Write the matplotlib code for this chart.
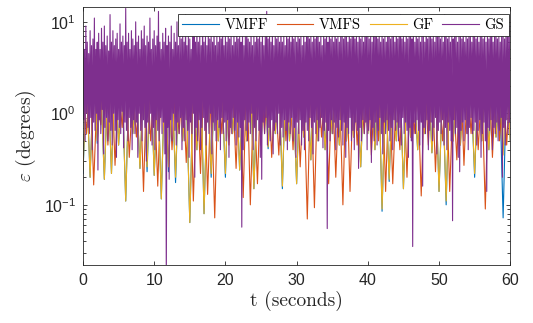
import numpy as np
import matplotlib
matplotlib.use('Agg')
import matplotlib.pyplot as plt
from matplotlib.ticker import LogLocator, NullFormatter

# pointing error vs time (degrees, log axis)
t_fast = np.arange(0, 60.001, 0.5)     # 121 samples for VMFF / VMFS / GF
t_gs = np.arange(0, 60.001, 0.1)       # 601 samples for GS

# VMFS: (value at t=k, value at t=k+0.5) pairs, last one at t=60
vmfs = [2.2, 0.6, 3.0, 0.165, 1.9, 0.75, 2.6, 0.45, 3.4, 0.27,
        2.1, 0.7, 2.8, 0.33, 1.8, 0.55, 2.5, 0.14, 3.2, 0.5,
        2.0, 0.16, 2.7, 0.8, 3.1, 0.4, 1.9, 0.6, 2.4, 0.29,
        3.3, 0.11, 2.2, 0.22, 2.9, 0.13, 1.8, 0.072, 2.6, 0.6,
        3.0, 0.45, 2.1, 0.25, 2.7, 0.12, 3.4, 0.10, 2.0, 0.17,
        2.5, 0.6, 3.1, 0.33, 1.9, 0.35, 2.8, 0.5, 2.3, 0.4,
        3.2, 0.26, 2.0, 0.07, 2.6, 0.093, 3.0, 0.55, 1.8, 0.17,
        2.7, 0.2, 2.2, 0.10, 3.3, 0.14, 2.5, 0.45, 1.9, 0.6,
        2.9, 0.35, 2.1, 0.5, 3.1, 0.14, 2.4, 0.17, 1.8, 0.4,
        2.8, 0.2, 3.2, 0.6, 2.0, 0.125, 2.6, 0.45, 3.0, 0.23,
        2.2, 0.5, 2.7, 0.14, 1.9, 0.31, 3.3, 0.27, 2.4, 0.6,
        2.9, 0.4, 2.1, 0.09, 3.1, 0.33, 2.5, 0.5, 2.0, 0.45,
        2.6]

# GF: (value at t=m, value at t=m+0.5) pairs, last one at t=60
gf = [0.24, 2.4, 0.2, 3.1, 0.5, 2.0, 0.19, 2.7, 0.22, 3.3,
      0.45, 2.2, 0.11, 2.9, 0.6, 1.9, 0.25, 2.6, 0.26, 3.2,
      0.21, 2.1, 0.116, 2.8, 0.26, 2.3, 0.2, 3.0, 0.5, 1.8,
      0.064, 2.5, 0.4, 3.4, 0.08, 2.2, 0.22, 2.7, 0.5, 2.0,
      0.22, 3.1, 0.6, 2.4, 0.24, 1.9, 0.5, 2.9, 0.15, 2.3,
      0.45, 3.2, 0.43, 2.1, 0.6, 2.6, 0.16, 3.0, 0.5, 1.8,
      0.17, 2.8, 0.55, 2.2, 0.31, 3.3, 0.5, 2.5, 0.4, 2.0,
      0.6, 2.7, 0.45, 3.1, 0.5, 2.3, 0.55, 1.9, 0.26, 2.9,
      0.6, 2.4, 0.4, 3.2, 0.09, 2.1, 0.19, 2.6, 0.5, 3.0,
      0.15, 2.2, 0.55, 1.8, 0.4, 2.8, 0.6, 3.3, 0.37, 2.5,
      0.14, 2.0, 0.11, 2.7, 0.5, 3.1, 0.45, 2.3, 0.6, 1.9,
      0.22, 2.9, 0.5, 2.4, 0.4, 3.0, 0.55, 2.1, 0.35, 2.6,
      0.5]

# VMFF: mostly on top of GF, a little lower at some dips
vmff = [0.22, 2.4, 0.2, 3.1, 0.47, 2.0, 0.19, 2.7, 0.22, 3.3,
        0.45, 2.2, 0.11, 2.9, 0.6, 1.9, 0.25, 2.6, 0.23, 3.2,
        0.21, 2.1, 0.116, 2.8, 0.23, 2.3, 0.175, 3.0, 0.5, 1.8,
        0.064, 2.5, 0.4, 3.4, 0.08, 2.2, 0.2, 2.7, 0.5, 2.0,
        0.2, 3.1, 0.6, 2.4, 0.24, 1.9, 0.5, 2.9, 0.15, 2.3,
        0.45, 3.2, 0.41, 2.1, 0.6, 2.6, 0.15, 3.0, 0.5, 1.8,
        0.17, 2.8, 0.55, 2.2, 0.31, 3.3, 0.5, 2.5, 0.4, 2.0,
        0.6, 2.7, 0.45, 3.1, 0.5, 2.3, 0.55, 1.9, 0.26, 2.9,
        0.6, 2.4, 0.4, 3.2, 0.085, 2.1, 0.18, 2.6, 0.5, 3.0,
        0.15, 2.2, 0.55, 1.8, 0.4, 2.8, 0.6, 3.3, 0.37, 2.5,
        0.14, 2.0, 0.10, 2.7, 0.5, 3.1, 0.45, 2.3, 0.6, 1.9,
        0.2, 2.9, 0.5, 2.4, 0.4, 3.0, 0.55, 2.1, 0.072, 2.6,
        0.5]

# GS: one row per second, samples every 0.1 s, last value at t=60
gs = [7, 0.85, 5, 0.5, 9, 1.0, 6, 0.7, 4.5, 0.6,
      8, 0.9, 5.5, 0.4, 6.5, 0.8, 11, 0.65, 5, 1.0,
      6, 0.24, 7.5, 0.85, 5, 0.6, 8.5, 1.1, 6, 0.36,
      9, 0.7, 5.5, 0.9, 7, 0.5, 4.8, 0.8, 12, 0.65,
      6, 0.45, 8, 1.0, 5.5, 0.65, 6.5, 0.33, 7.5, 0.85,
      5, 0.7, 9.5, 0.6, 6, 1.05, 7, 0.42, 5.5, 0.8,
      14, 0.65, 6, 0.5, 7.5, 0.9, 5, 0.7, 8, 0.4,
      6.5, 0.85, 5.5, 0.6, 10, 0.8, 6, 0.33, 7, 1.0,
      5, 0.65, 8, 0.5, 6.5, 0.85, 9, 0.7, 5.5, 0.3,
      7, 0.8, 6, 0.6, 11, 1.0, 5, 0.45, 6.5, 0.7,
      8, 0.4, 5.5, 0.85, 7, 0.65, 13, 0.5, 6, 0.9,
      5, 0.6, 7.5, 0.8, 6, 0.36, 8.5, 0.015, 5.5, 0.7,
      7, 0.19, 6, 0.85, 9, 0.5, 5, 1.0, 7.5, 0.65,
      6, 0.45, 10, 0.8, 5.5, 0.6, 7, 0.9, 6.5, 0.4,
      8, 0.7, 6, 0.5, 12, 0.85, 5.5, 0.65, 7, 0.33,
      6.5, 0.8, 5, 0.6, 8, 1.0, 7, 0.2, 6, 0.7,
      9, 0.5, 6, 0.85, 7.5, 0.4, 5.5, 0.7, 11, 0.9,
      6, 0.65, 7, 0.45, 5.5, 0.8, 8.5, 0.6, 6.5, 1.0,
      7.5, 0.36, 6, 0.8, 10, 0.65, 5.5, 0.5, 7, 0.85,
      6, 0.7, 8, 0.4, 6.5, 0.9, 12, 0.6, 5.5, 0.8,
      7, 0.5, 6, 0.85, 9, 0.33, 6.5, 0.7, 7.5, 0.6,
      5.5, 0.9, 8, 0.65, 6, 0.45, 10, 0.8, 6.5, 0.55,
      7, 0.7, 6, 0.057, 8.5, 0.4, 5.5, 0.85, 7, 0.65,
      11, 0.5, 6.5, 0.8, 6, 0.6, 8, 1.0, 5.5, 0.4,
      7.5, 0.7, 6, 0.5, 9.5, 0.85, 6.5, 0.65, 7, 0.33,
      6, 0.19, 8, 0.8, 5.5, 0.6, 7, 0.9, 13, 0.45,
      6.5, 0.7, 7, 0.5, 6, 0.85, 9, 0.36, 5.5, 0.65,
      8, 0.8, 6.5, 0.6, 7.5, 1.0, 6, 0.45, 10, 0.7,
      6, 0.55, 7, 0.85, 5.5, 0.65, 8.5, 0.4, 6.5, 0.8,
      7.5, 0.6, 6, 0.9, 11, 0.5, 6.5, 0.7, 7, 0.33,
      6, 0.8, 9, 0.6, 6.5, 0.85, 7, 0.45, 5.5, 0.65,
      8, 0.4, 6, 0.8, 7.5, 0.65, 12, 0.5, 6.5, 0.9,
      7, 0.7, 6, 0.36, 8.5, 0.8, 6.5, 0.6, 7, 0.85,
      10, 0.5, 6, 0.7, 7, 0.9, 5.5, 0.42, 8, 0.65,
      6.5, 0.8, 7, 0.055, 6, 0.65, 9, 0.5, 6.5, 0.85,
      7.5, 0.6, 6, 0.8, 11, 0.4, 6.5, 0.7, 7, 0.55,
      6, 0.85, 8, 0.65, 7, 0.45, 6.5, 0.8, 9.5, 0.33,
      7, 0.7, 6, 0.6, 8, 0.9, 6.5, 0.5, 7.5, 0.65,
      12, 0.4, 6.5, 0.8, 7, 0.65, 6, 0.25, 8.5, 0.7,
      6.5, 0.5, 7, 0.85, 6, 0.6, 10, 0.8, 7, 0.4,
      8, 0.65, 6.5, 0.85, 7, 0.29, 6, 0.7, 9, 0.5,
      7, 0.8, 11, 0.45, 6.5, 0.65, 7.5, 0.9, 6, 0.6,
      8.5, 0.36, 6.5, 0.8, 7, 0.6, 6, 0.85, 10, 0.65,
      7, 0.5, 6.5, 0.7, 8, 0.4, 7, 0.85, 6, 0.65,
      9, 0.8, 6.5, 0.5, 7.5, 0.7, 12, 0.45, 6.5, 0.9,
      7, 0.6, 6, 0.8, 8, 0.65, 6.5, 0.33, 7, 0.7,
      10, 0.5, 6.5, 0.035, 7, 0.8, 6, 0.6, 8.5, 0.85,
      6.5, 0.65, 7.5, 0.45, 6, 0.8, 9, 0.16, 7, 0.7,
      6, 0.6, 11, 0.85, 6.5, 0.4, 7, 0.65, 8, 0.8,
      6.5, 0.5, 7, 0.7, 6, 0.9, 9.5, 0.36, 7, 0.65,
      8, 0.8, 6.5, 0.6, 7, 0.85, 6, 0.45, 12, 0.7,
      7, 0.4, 6.5, 0.8, 8, 0.65, 6, 0.5, 7.5, 0.067,
      6.5, 0.85, 9, 0.6, 7, 0.7, 6, 0.33, 8, 0.23,
      7, 0.65, 6.5, 0.8, 10, 0.5, 6, 0.85, 7.5, 0.6,
      6.5, 0.4, 8, 0.7, 7, 0.9, 6, 0.6, 11, 0.65,
      7, 0.8, 6.5, 0.45, 8.5, 0.65, 6, 0.85, 7, 0.33,
      9, 0.6, 6.5, 0.8, 7, 0.5, 6, 0.14, 8, 0.7,
      6.5, 0.65, 7.5, 0.85, 12, 0.4, 6, 0.7, 7, 0.6,
      8, 0.8, 6.5, 0.5, 7, 0.65, 6, 0.9, 9, 0.2,
      7, 0.7, 6.5, 0.45, 8, 0.85, 7.5, 0.6, 9, 0.8,
      8.5]

labels = ['VMFF', 'VMFS', 'GF', 'GS']
colors = ['#0072BD', '#D95319', '#EDB120', '#7E2F8E']

plt.rcParams['font.family'] = ['Liberation Sans', 'DejaVu Sans']
plt.rcParams['mathtext.fontset'] = 'custom'
plt.rcParams['mathtext.rm'] = 'Liberation Sans'
plt.rcParams['mathtext.it'] = 'Liberation Sans:italic'
plt.rcParams['mathtext.bf'] = 'Liberation Sans:bold'

axcol = '#262626'
fig = plt.figure(figsize=(5.33, 3.23), dpi=100)
ax = fig.add_axes([0.1557, 0.1796, 0.8016, 0.7985])

ax.plot(t_fast, vmff, color=colors[0], lw=0.8, label=labels[0])
ax.plot(t_fast, vmfs, color=colors[1], lw=0.8, label=labels[1])
ax.plot(t_fast, gf, color=colors[2], lw=0.8, label=labels[2])
ax.plot(t_gs, gs, color=colors[3], lw=0.8, label=labels[3])

ax.set_yscale('log')
ax.set_xlim(0, 60)
ax.set_ylim(0.022, 14.5)
ax.set_xticks([0, 10, 20, 30, 40, 50, 60])
ax.set_yticks([0.1, 1, 10])
ax.set_yticklabels([r'$10^{-1}$', r'$10^{0}$', r'$10^{1}$'])
ax.yaxis.set_minor_locator(LogLocator(base=10, subs=np.arange(2, 10)))
ax.yaxis.set_minor_formatter(NullFormatter())

ax.tick_params(which='both', direction='in', top=True, right=True,
               colors=axcol, labelsize=11.5, width=0.6)
ax.tick_params(which='major', length=3.2)
ax.tick_params(which='minor', length=2.0)
ax.tick_params(axis='x', pad=6)
ax.tick_params(axis='y', pad=5)
for s in ax.spines.values():
    s.set_color(axcol)
    s.set_linewidth(0.6)

ax.set_xlabel('t (seconds)', family='cmr10', fontsize=14, color=axcol, labelpad=2)
ax.set_ylabel(r'$\varepsilon$ (degrees)', family='cmr10', math_fontfamily='cm',
              fontsize=14, color=axcol, labelpad=4)

leg = ax.legend(ncol=4, loc='upper right', bbox_to_anchor=(0.996, 0.974),
                borderaxespad=0, prop={'family': 'cmr10', 'size': 10.5},
                fancybox=False, framealpha=1, edgecolor=axcol,
                handlelength=2.5, handletextpad=0.4, columnspacing=0.6,
                borderpad=0.3)
leg.get_frame().set_linewidth(0.6)

fig.savefig('out.png', dpi=100)
